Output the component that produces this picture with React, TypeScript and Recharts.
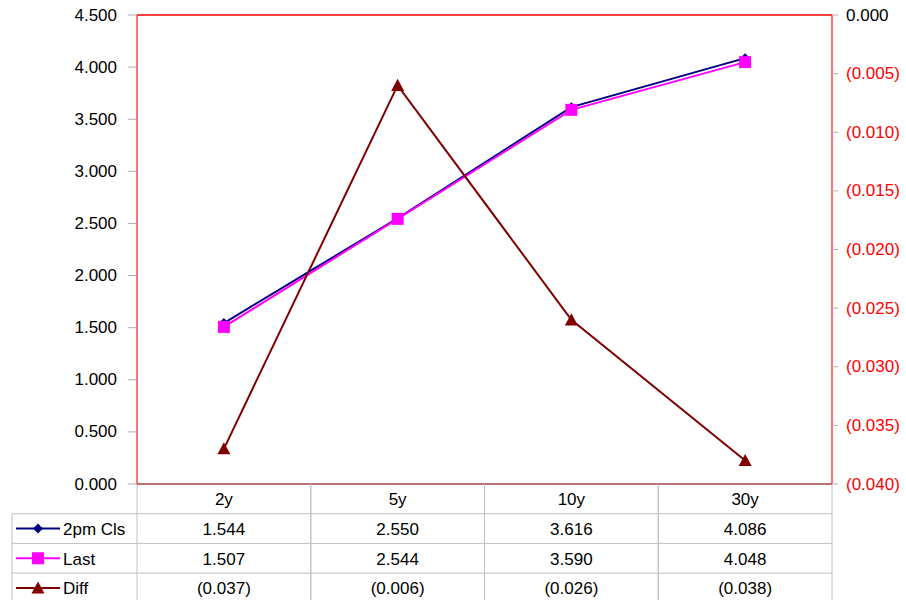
import React from 'react'
import { LineChart, Line, XAxis, YAxis, ReferenceLine } from 'recharts'

const categories = ['2y', '5y', '10y', '30y']
const cls2pm = [1.544, 2.55, 3.616, 4.086]
const last = [1.507, 2.544, 3.59, 4.048]
const diff = [-0.037, -0.006, -0.026, -0.038]
const leftTicks = [0, 0.5, 1, 1.5, 2, 2.5, 3, 3.5, 4, 4.5]
const rightTicks = [-0.04, -0.035, -0.03, -0.025, -0.02, -0.015, -0.01, -0.005, 0]

const W = 906
const H = 600
const PLOT_L = 137
const PLOT_R = 832
const PLOT_T = 15
const PLOT_B = 484
const ROW_H = 29.7
const TABLE_L = 12
const GRID = '#c0c0c0'
const FONT = "'Liberation Sans', Arial, sans-serif"
const FS = 17
const BAND = (PLOT_R - PLOT_L) / categories.length

const NAVY = '#000080'
const MAGENTA = '#ff00ff'
const MAROON = '#800000'
const BORDER = '#ff0000'

const fmt = (v: number) => (v < 0 ? `(${Math.abs(v).toFixed(3)})` : v.toFixed(3))

const chartData = categories.map((name, i) => ({
  name,
  cls: cls2pm[i],
  last: last[i],
  diff: diff[i],
}))

const rows = [
  { label: '2pm Cls', values: cls2pm, color: NAVY, shape: 'diamond' },
  { label: 'Last', values: last, color: MAGENTA, shape: 'square' },
  { label: 'Diff', values: diff, color: MAROON, shape: 'triangle' },
]

function marker(shape: string, cx: number, cy: number, color: string, key?: string) {
  if (shape === 'diamond') {
    const r = 5
    return <path key={key} d={`M${cx},${cy - r}L${cx + r},${cy}L${cx},${cy + r}L${cx - r},${cy}Z`} fill={color} />
  }
  if (shape === 'square') {
    const r = 6
    return <rect key={key} x={cx - r} y={cy - r} width={2 * r} height={2 * r} fill={color} />
  }
  const r = 6.5
  return <path key={key} d={`M${cx},${cy - r}L${cx + r},${cy + r * 0.85}L${cx - r},${cy + r * 0.85}Z`} fill={color} />
}

const dotFor = (shape: string, color: string) => (p: any) =>
  marker(shape, p.cx, p.cy, color, `${shape}-${p.index}`)

const LeftTick = ({ x, y, payload }: any) => (
  <text x={x} y={y} textAnchor="end" dominantBaseline="central" fontFamily={FONT} fontSize={FS} fill="#000">
    {fmt(payload.value)}
  </text>
)

const RightTick = ({ x, y, payload }: any) => (
  <text x={x} y={y} textAnchor="start" dominantBaseline="central" fontFamily={FONT} fontSize={FS}
    fill={payload.value < 0 ? '#ff0000' : '#000'}>
    {fmt(payload.value)}
  </text>
)

// category label plus the data table column under it
const TableTick = ({ x, payload, index }: any) => {
  const top = PLOT_B
  const left = x - BAND / 2
  const right = x + BAND / 2
  return (
    <g>
      <line x1={left} y1={top} x2={left} y2={H} stroke={GRID} />
      <line x1={right} y1={top} x2={right} y2={H} stroke={GRID} />
      <text x={x} y={top + ROW_H / 2 + 1} textAnchor="middle" dominantBaseline="central" fontFamily={FONT} fontSize={FS}>
        {payload.value}
      </text>
      {rows.map((r, ri) => (
        <g key={r.label}>
          <line x1={index === 0 ? TABLE_L : left} y1={top + ROW_H * (ri + 1)} x2={right} y2={top + ROW_H * (ri + 1)} stroke={GRID} />
          <text x={x} y={top + ROW_H * (ri + 1.5) + 1} textAnchor="middle" dominantBaseline="central" fontFamily={FONT} fontSize={FS}>
            {fmt(r.values[index])}
          </text>
        </g>
      ))}
      {index === 0 && (
        <g>
          <line x1={TABLE_L} y1={top + ROW_H} x2={TABLE_L} y2={H} stroke={GRID} />
          {rows.map((r, ri) => {
            const cy = top + ROW_H * (ri + 1.5)
            return (
              <g key={r.label}>
                <line x1={16} y1={cy} x2={60} y2={cy} stroke={r.color} strokeWidth={2} />
                {marker(r.shape, 38, cy, r.color)}
                <text x={63} y={cy + 1} dominantBaseline="central" fontFamily={FONT} fontSize={FS}>
                  {r.label}
                </text>
              </g>
            )
          })}
        </g>
      )}
    </g>
  )
}

export default function App() {
  return (
    <div style={{ position: 'absolute', left: 0, top: 0, width: W, height: H, background: '#fff' }}>
      <LineChart width={W} height={H} data={chartData} margin={{ top: PLOT_T, right: 0, bottom: 0, left: 0 }}>
        <ReferenceLine yAxisId="left" y={4.5} stroke={BORDER} strokeWidth={1.5} />
        <XAxis dataKey="name" height={H - PLOT_B} padding={{ left: BAND / 2, right: BAND / 2 }}
          axisLine={{ stroke: '#a04040', strokeWidth: 1.5 }}
          tickLine={false} tickSize={0} tickMargin={0} tick={<TableTick />} interval={0} />
        <YAxis yAxisId="left" width={PLOT_L} domain={[0, 4.5]} ticks={leftTicks}
          axisLine={{ stroke: BORDER, strokeOpacity: 0.55, strokeWidth: 2 }}
          tickLine={{ stroke: '#b0b0b0' }} tickSize={9} tickMargin={11} tick={<LeftTick />} />
        <YAxis yAxisId="right" orientation="right" width={W - PLOT_R} domain={[-0.04, 0]} ticks={rightTicks}
          axisLine={{ stroke: BORDER, strokeOpacity: 0.55, strokeWidth: 2 }}
          tickLine={{ stroke: '#b0b0b0' }} tickSize={6} tickMargin={8} tick={<RightTick />} />
        <Line yAxisId="left" dataKey="cls" type="linear" stroke={NAVY} strokeWidth={2}
          dot={dotFor('diamond', NAVY)} activeDot={false} isAnimationActive={false} />
        <Line yAxisId="left" dataKey="last" type="linear" stroke={MAGENTA} strokeWidth={2}
          dot={dotFor('square', MAGENTA)} activeDot={false} isAnimationActive={false} />
        <Line yAxisId="right" dataKey="diff" type="linear" stroke={MAROON} strokeWidth={2}
          dot={dotFor('triangle', MAROON)} activeDot={false} isAnimationActive={false} />
      </LineChart>
    </div>
  )
}
